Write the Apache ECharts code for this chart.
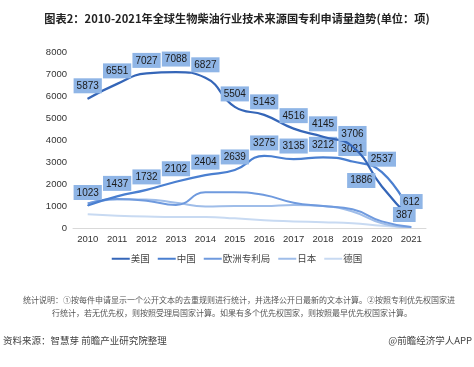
<!DOCTYPE html>
<html><head><meta charset="utf-8">
<script src="https://cdn.jsdelivr.net/npm/echarts@6/dist/echarts.min.js"></script>
<style>html,body{margin:0;padding:0;background:#fff}#c{width:474px;height:367px}</style>
</head><body><div id="c"></div>
<script>
var years = ['2010','2011','2012','2013','2014','2015','2016','2017','2018','2019','2020','2021'];
var usa = [5873, 6551, 7027, 7088, 6827, 5504, 5143, 4516, 4145, 3706, 1886, 387];
var china = [1023, 1437, 1732, 2102, 2404, 2639, 3275, 3135, 3212, 3021, 2537, 612];
var epo = [1120, 1320, 1240, 1050, 1620, 1620, 1500, 1150, 1000, 850, 300, 50];
var japan = [1120, 1300, 1300, 1150, 980, 1000, 1000, 1050, 1000, 750, 220, 40];
var germany = [620, 560, 520, 500, 500, 440, 350, 300, 260, 220, 100, 30];
var names = ['美国','中国','欧洲专利局','日本','德国'];
var colors = ['#3566b8','#4a7fd0','#6f9ade','#9fbde9','#c8daf2'];

var F = '"Liberation Sans","Noto Sans CJK SC",sans-serif';
var CJK = '"Noto Sans CJK SC",sans-serif';
var labelStyle = {show:true, position:'top', distance:5, fontSize:10, fontFamily:F, color:'#1a1a1a',
  backgroundColor:'#8fb5e6', padding:[3,3,2,3]};

function withOverrides(arr, ov){
  return arr.map(function(v,i){
    if(ov[i]) return {value:v, label:ov[i]};
    return v;
  });
}

var chart = echarts.init(document.getElementById('c'));
chart.setOption({
  animation:false,
  title:{text:'图表2：2010-2021年全球生物柴油行业技术来源国专利申请量趋势(单位：项)', left:'center', top:8,
    textStyle:{fontSize:11.2, fontWeight:'bold', color:'#222', fontFamily:CJK}},
  grid:{left:73, right:48, top:52, bottom:139},
  legend:{data:names, top:249, left:'center', itemWidth:18, itemHeight:2, itemGap:8, icon:'rect',
    textStyle:{fontSize:9.5, color:'#444', fontFamily:CJK, padding:[0,0,0,-4]}},
  xAxis:{type:'category', data:years, boundaryGap:true,
    axisLine:{lineStyle:{color:'#d9d9d9'}}, axisTick:{show:false},
    axisLabel:{fontSize:9.5, color:'#333', fontFamily:F, margin:7}},
  yAxis:{type:'value', min:0, max:8000, interval:1000,
    axisLine:{show:false}, axisTick:{show:false}, splitLine:{show:false},
    axisLabel:{fontSize:9.5, color:'#333', fontFamily:F, margin:6, formatter:function(v){return String(v);}}},
  series:[
    {name:names[0], type:'line', smooth:true, symbol:'circle', symbolSize:1, showSymbol:true,
      data:withOverrides(usa,{10:{position:'left',distance:6,offset:[0,-6]},11:{position:'top',offset:[-7,8]}}),
      lineStyle:{width:2.2, color:colors[0]}, itemStyle:{color:colors[0]}, label:labelStyle, z:5},
    {name:names[1], type:'line', smooth:true, symbol:'circle', symbolSize:1, showSymbol:true, data:china,
      lineStyle:{width:2.2, color:colors[1]}, itemStyle:{color:colors[1]}, label:labelStyle, z:4},
    {name:names[2], type:'line', smooth:true, symbol:'none', data:epo,
      lineStyle:{width:2, color:colors[2]}, itemStyle:{color:colors[2]}, z:3},
    {name:names[3], type:'line', smooth:true, symbol:'none', data:japan,
      lineStyle:{width:2, color:colors[3]}, itemStyle:{color:colors[3]}, z:2},
    {name:names[4], type:'line', smooth:true, symbol:'none', data:germany,
      lineStyle:{width:2, color:colors[4]}, itemStyle:{color:colors[4]}, z:1}
  ],
  graphic:[
    {type:'text', x:239, y:296, style:{text:'统计说明：①按每件申请显示一个公开文本的去重规则进行统计，并选择公开日最新的文本计算。②按照专利优先权国家进',
      fontSize:8, fill:'#555', fontFamily:CJK, textAlign:'center'}},
    {type:'text', x:232, y:309, style:{text:'行统计，若无优先权，则按照受理局国家计算。如果有多个优先权国家，则按照最早优先权国家计算。',
      fontSize:8, fill:'#555', fontFamily:CJK, textAlign:'center'}},
    {type:'text', x:3, y:336, style:{text:'资料来源：智慧芽 前瞻产业研究院整理', fontSize:9.5, fill:'#444', fontFamily:CJK}},
    {type:'text', x:472, y:336, style:{text:'@前瞻经济学人APP', fontSize:9.5, fill:'#444', fontFamily:CJK, textAlign:'right'}}
  ]
});
</script></body></html>
